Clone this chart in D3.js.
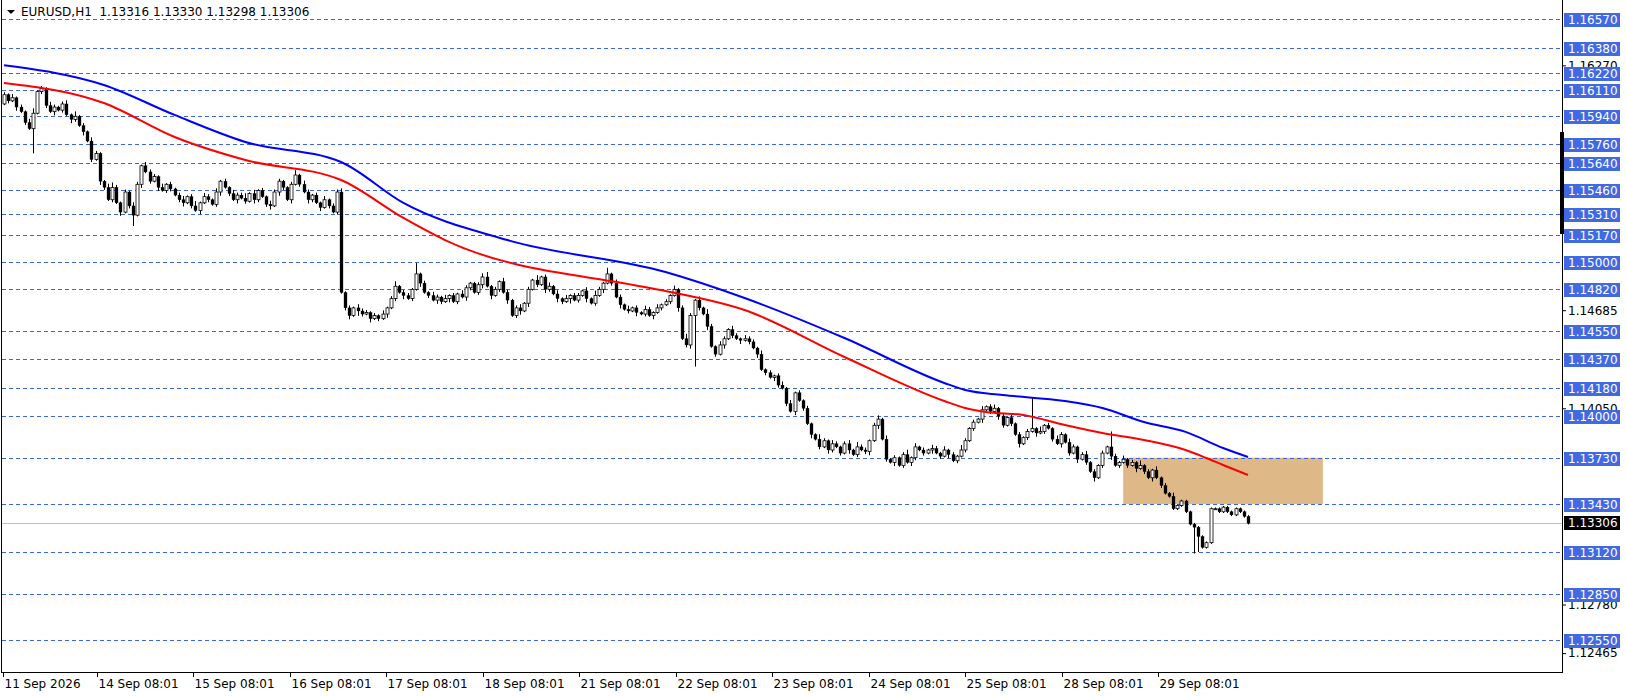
<!DOCTYPE html>
<html><head><meta charset="utf-8">
<script src="https://cdn.jsdelivr.net/npm/d3@7/dist/d3.min.js"></script>
<style>body{margin:0;background:#fff}svg{display:block}text{font-family:Tahoma,"DejaVu Sans",sans-serif}</style>
</head><body><svg id="c" width="1626" height="696"></svg>
<script>
const closes = [
1.1608,1.1604,1.1606,1.1600,1.1597,1.1590,1.1586,1.1596,1.1610,1.1612,
1.1601,1.1597,1.1600,1.1598,1.1602,1.1595,1.1592,1.1594,1.1588,1.1584,
1.1578,1.1566,1.1570,1.1552,1.1548,1.1540,1.1548,1.1538,1.1532,1.1545,
1.1536,1.1530,1.1550,1.1562,1.1558,1.1552,1.1555,1.1548,1.1546,1.1550,
1.1547,1.1543,1.1540,1.1538,1.1542,1.1536,1.1533,1.1538,1.1542,1.1540,
1.1537,1.1545,1.1552,1.1548,1.1544,1.1540,1.1543,1.1541,1.1539,1.1544,
1.1540,1.1546,1.1542,1.1537,1.1536,1.1545,1.1552,1.1548,1.1540,1.1550,
1.1556,1.1550,1.1545,1.1540,1.1543,1.1538,1.1535,1.1540,1.1536,1.1532,
1.1545,1.1480,1.1470,1.1465,1.1470,1.1468,1.1466,1.1467,1.1463,1.1465,
1.1463,1.1466,1.1470,1.1476,1.1484,1.1480,1.1478,1.1476,1.1482,1.1492,
1.1486,1.1480,1.1478,1.1475,1.1477,1.1474,1.1476,1.1478,1.1474,1.1479,
1.1477,1.1483,1.1486,1.1480,1.1485,1.1490,1.1484,1.1478,1.1482,1.1487,
1.1480,1.1475,1.1465,1.1470,1.1468,1.1473,1.1482,1.1488,1.1485,1.1490,
1.1482,1.1484,1.1479,1.1476,1.1474,1.1476,1.1478,1.1475,1.1478,1.1481,
1.1476,1.1473,1.1478,1.1482,1.1486,1.1492,1.1486,1.1477,1.1472,1.1469,
1.1468,1.1470,1.1467,1.1466,1.1469,1.1465,1.1467,1.1470,1.1472,1.1474,
1.1478,1.1482,1.1470,1.1450,1.1446,1.1465,1.1475,1.1470,1.1466,1.1458,
1.1445,1.1440,1.1446,1.1450,1.1456,1.1452,1.1450,1.1449,1.1450,1.1448,
1.1444,1.1440,1.1430,1.1428,1.1425,1.1426,1.1420,1.1418,1.1408,1.1403,
1.1415,1.1410,1.1405,1.1395,1.1388,1.1385,1.1380,1.1384,1.1378,1.1382,
1.1380,1.1376,1.1382,1.1378,1.1375,1.1380,1.1378,1.1377,1.1384,1.1394,
1.1398,1.1385,1.1372,1.1370,1.1373,1.1368,1.1375,1.1370,1.1373,1.1380,
1.1378,1.1376,1.1378,1.1379,1.1376,1.1374,1.1378,1.1375,1.1371,1.1374,
1.1378,1.1384,1.1392,1.1396,1.1398,1.1404,1.1406,1.1403,1.1405,1.1400,
1.1394,1.1399,1.1395,1.1388,1.1382,1.1386,1.1390,1.1392,1.1389,1.1390,
1.1394,1.1392,1.1385,1.1382,1.1388,1.1383,1.1376,1.1380,1.1372,1.1375,
1.1370,1.1364,1.1360,1.1368,1.1376,1.1380,1.1374,1.1368,1.1370,1.1372,
1.1368,1.1370,1.1366,1.1368,1.1364,1.1360,1.1365,1.1360,1.1355,1.1350,
1.1348,1.1340,1.1342,1.1345,1.1338,1.1330,1.1328,1.1322,1.1315,1.1318,
1.1340,1.1340,1.1338,1.1341,1.1338,1.1336,1.1340,1.1338,1.1335,1.13306];
const firstOpen = 1.1602;
// wick sizes in pips, one digit per bar
const wickUp = "2131213412132123141213211342121321322131212312413213121322413121322112413212131223121322121312412213121321312132112341213212312141231313122131421213213121321312131242131421321321322131212313121211421321231422123131212413121321312142121312312131212314121321321231212132131214121312131";
const wickDn = "1213121312213121321312132121312313121312212312131212312131213212313213121321312121231421312131213121312132131213212313121312313121321321412131213121312131213121213123121312131213121312132121312131213212131212313121312132121312131212121312132121312131212131213121312131212131213121";
const spikeIdx = [7, 31, 99, 145, 166, 247, 266, 286, 287];
const spikeLow = [1.1570, 1.1523, null, null, 1.1432, null, null, 1.1311, 1.1312];
const spikeHigh = [null, null, 1.1499, 1.1496, null, 1.1412, 1.1390, null, null];

const blueIdx = [0,24,41,58,81,96,121,159,178,202,226,231,240,255,264,274,284,293,299];
const blueVal = [1.16270,1.16143,1.15949,1.15774,1.15644,1.15379,1.15139,1.14932,1.14764,1.14505,1.14214,1.14168,1.14136,1.14097,1.14052,1.13961,1.13897,1.13793,1.13735];
const redIdx = [0,24,41,58,81,96,106,154,159,178,202,226,231,236,245,255,264,274,284,289,293,299];
const redVal = [1.16156,1.16026,1.15806,1.15657,1.15528,1.15282,1.15139,1.14835,1.14809,1.14686,1.14382,1.14097,1.14052,1.14026,1.14007,1.13942,1.13890,1.13845,1.13780,1.13728,1.13683,1.13618];

const levels = [1.16570,1.16380,1.16220,1.16110,1.15940,1.15760,1.15640,1.15460,1.15310,1.15170,1.15000,1.14820,1.14550,1.14370,1.14180,1.14000,1.13730,1.13430,1.13120,1.12850,1.12550];
const priceTicks = [1.16270,1.14685,1.14050,1.12780,1.12465];
const dateLabels = ["11 Sep 2026","14 Sep 08:01","15 Sep 08:01","16 Sep 08:01","17 Sep 08:01","18 Sep 08:01","21 Sep 08:01","22 Sep 08:01","23 Sep 08:01","24 Sep 08:01","25 Sep 08:01","28 Sep 08:01","29 Sep 08:01"];
const dateIdx = [0,23.2,46.4,69.6,92.8,116,139.2,162.4,185.6,208.8,232,255.2,278.4];
const lastPrice = 1.13306;
const zoneHigh = 1.13730, zoneLow = 1.13430, zoneStart = 269, zoneEnd = 317;
const header = "EURUSD,H1  1.13316 1.13330 1.13298 1.13306";

const svg = d3.select("#c");
const axisX = 1562, bottom = 672;
const y = d3.scaleLinear().domain([1.1657, 1.1255]).range([19, 640]);
const x = d3.scaleLinear().domain([0, 299]).range([4, 1248]);

const plot = svg.append("g");
plot.append("defs").append("clipPath").attr("id","cp").append("rect").attr("x",2).attr("y",0).attr("width",axisX-2).attr("height",bottom);
const g = plot.append("g").attr("clip-path","url(#cp)");

// zone
g.append("rect").attr("x", x(zoneStart)).attr("width", x(zoneEnd)-x(zoneStart))
  .attr("y", y(zoneHigh)).attr("height", y(zoneLow)-y(zoneHigh)).attr("fill","#deb887");

// level lines
g.selectAll(".lv").data(levels).join("line")
  .attr("x1",2).attr("x2",axisX).attr("y1",d=>Math.round(y(d))+0.5).attr("y2",d=>Math.round(y(d))+0.5)
  .attr("stroke","#3a66e0").attr("stroke-dasharray","4,3").attr("stroke-width",1);
// last price line
g.append("line").attr("x1",2).attr("x2",axisX).attr("y1",Math.round(y(lastPrice))+0.5).attr("y2",Math.round(y(lastPrice))+0.5).attr("stroke","#c0c0c0");

// candles
const bars = closes.map((c,i)=>{
  const o = i===0 ? firstOpen : closes[i-1];
  let h = Math.max(o,c) + (+wickUp[i]||1)*0.00008;
  let l = Math.min(o,c) - (+wickDn[i]||1)*0.00008;
  const k = spikeIdx.indexOf(i);
  if (k>=0){ if(spikeLow[k]!=null) l=spikeLow[k]; if(spikeHigh[k]!=null) h=spikeHigh[k]; }
  return {i,o,c,h,l};
});
const cg = g.append("g");
bars.forEach(b=>{
  const cx = Math.round(x(b.i))+0.5;
  cg.append("line").attr("x1",cx).attr("x2",cx).attr("y1",y(b.h)).attr("y2",y(b.l)).attr("stroke","#000");
  const top = y(Math.max(b.o,b.c)), bot = y(Math.min(b.o,b.c));
  cg.append("rect").attr("x",cx-1.5).attr("width",3).attr("y",top).attr("height",Math.max(1,bot-top))
    .attr("fill", b.c<b.o ? "#000" : "#fff").attr("stroke","#000").attr("stroke-width",b.c<b.o?0.3:0.8);
});

// MAs
const line = d3.line().x(d=>x(d[0])).y(d=>y(d[1])).curve(d3.curveMonotoneX);
g.append("path").attr("d", line(redIdx.map((d,i)=>[d,redVal[i]]))).attr("fill","none").attr("stroke","#ff0000").attr("stroke-width",2);
g.append("path").attr("d", line(blueIdx.map((d,i)=>[d,blueVal[i]]))).attr("fill","none").attr("stroke","#0000ff").attr("stroke-width",2);

// frame
svg.append("line").attr("x1",1.5).attr("x2",1.5).attr("y1",0).attr("y2",bottom).attr("stroke","#000");
svg.append("line").attr("x1",axisX+0.5).attr("x2",axisX+0.5).attr("y1",0).attr("y2",bottom+0.5).attr("stroke","#000");
svg.append("line").attr("x1",1).attr("x2",axisX+1).attr("y1",bottom+0.5).attr("y2",bottom+0.5).attr("stroke","#000");
svg.append("rect").attr("x",axisX-2).attr("y",132).attr("width",4).attr("height",102).attr("fill","#000");

// price ticks
const yAxis = d3.axisRight(y).tickValues(priceTicks).tickSize(4).tickFormat(d3.format(".5f"));
const ya = svg.append("g").attr("transform",`translate(${axisX},0)`).call(yAxis);
ya.select(".domain").remove();
ya.selectAll("text").attr("font-size",12).attr("fill","#000").attr("x",6);
ya.selectAll("line").attr("stroke","#000");

// level labels
const lg = svg.append("g");
levels.forEach(v=>{
  const yy = Math.round(y(v));
  lg.append("rect").attr("x",axisX+2).attr("y",yy-6).attr("width",56).attr("height",14).attr("fill","#4169e1");
  lg.append("text").attr("x",axisX+6).attr("y",yy+5).attr("font-size",12).attr("fill","#fff").text(d3.format(".5f")(v));
});
const ly = Math.round(y(lastPrice));
lg.append("rect").attr("x",axisX+2).attr("y",ly-7).attr("width",56).attr("height",14).attr("fill","#000");
lg.append("text").attr("x",axisX+6).attr("y",ly+4).attr("font-size",12).attr("fill","#fff").text(d3.format(".5f")(lastPrice));

// date axis
const da = svg.append("g");
dateIdx.forEach((d,i)=>{
  const xx = Math.round(i===0?3:x(d)-4)+0.5;
  da.append("line").attr("x1",xx).attr("x2",xx).attr("y1",bottom).attr("y2",bottom+5).attr("stroke","#000");
  da.append("text").attr("x",xx+1).attr("y",bottom+16).attr("font-size",12).attr("fill","#000").text(dateLabels[i]);
});

// header
svg.append("path").attr("d","M7,10 L15,10 L11,14 Z").attr("fill","#000");
svg.append("text").attr("x",21).attr("y",16).attr("font-size",12).attr("fill","#000").attr("xml:space","preserve").style("white-space","pre").text(header);
</script></body></html>
